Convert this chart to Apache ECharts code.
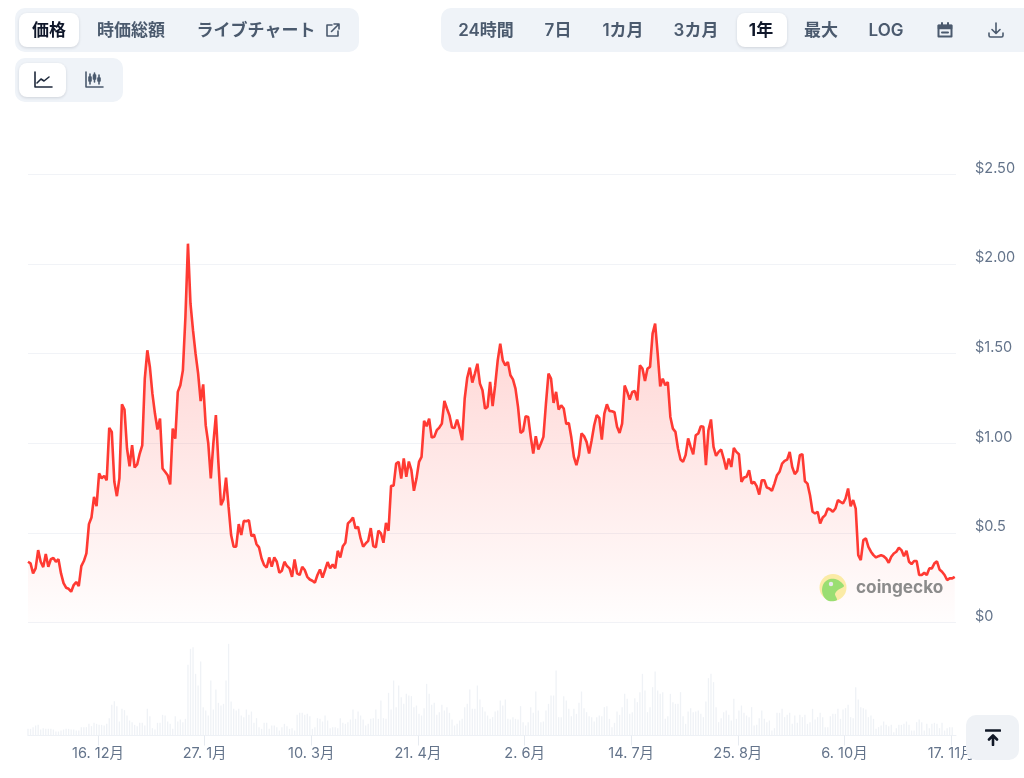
<!DOCTYPE html>
<html>
<head>
<meta charset="utf-8">
<title>価格チャート</title>
<script src="https://cdn.jsdelivr.net/npm/echarts@6/dist/echarts.min.js"></script>
<style>
html, body { margin: 0; padding: 0; background: #fff; overflow: hidden; }
body { width: 1024px; height: 778px; position: relative; font-family: Inter, "Noto Sans CJK JP", sans-serif; }
#priceChart { position: absolute; left: 0; top: 0; width: 1024px; height: 778px; }
.group { position: absolute; background: #eff3f8; border-radius: 10px; }
.pill { position: absolute; background: #fff; border-radius: 8px; box-shadow: 0 1px 3px rgba(15, 23, 42, .14); }
.label { position: absolute; top: 8px; height: 44px; line-height: 44px; transform: translateX(-50%); white-space: nowrap; font-size: 17px; font-weight: 600; color: #4b5a6e; }
.label.on { color: #0f172a; font-weight: 700; }
svg.icon { position: absolute; fill: none; stroke: #4b5a6e; stroke-width: 1.6; stroke-linecap: round; stroke-linejoin: round; }
#toTop { position: absolute; left: 966px; top: 715px; width: 53px; height: 45px; background: #eff2f6; border-radius: 10px; }
</style>
</head>
<body>
<div id="priceChart"></div>

<div class="group" style="left:15px;top:8px;width:344px;height:44px"></div>
<div class="pill" style="left:19px;top:13px;width:60px;height:34px"></div>
<div class="group" style="left:15px;top:58px;width:108px;height:44px"></div>
<div class="pill" style="left:19px;top:63px;width:47px;height:34px"></div>
<div class="group" style="left:441px;top:8px;width:600px;height:44px"></div>
<div class="pill" style="left:737px;top:13px;width:50px;height:34px"></div>

<span class="label on" style="left:49px">価格</span>
<span class="label" style="left:131px">時価総額</span>
<span class="label" style="left:256px">ライブチャート</span>
<span class="label" style="left:486px">24時間</span>
<span class="label" style="left:558px">7日</span>
<span class="label" style="left:623px">1カ月</span>
<span class="label" style="left:696px">3カ月</span>
<span class="label on" style="left:761px">1年</span>
<span class="label" style="left:821px">最大</span>
<span class="label" style="left:886px">LOG</span>

<!-- 外部リンク -->
<svg class="icon" style="left:324px;top:22px" width="17" height="17" viewBox="0 0 17 17">
  <path d="M8 3H3v11h11V9M7.5 9.5L14.5 2.5M10 2h5v5"/>
</svg>
<!-- ライン / ローソク足 -->
<svg class="icon" style="left:33px;top:71px;stroke:#1e293b" width="20" height="18" viewBox="0 0 20 18">
  <path d="M2 1v15h17M4 12l4-4 3 2 5-4"/>
</svg>
<svg class="icon" style="left:84px;top:71px" width="20" height="18" viewBox="0 0 20 18">
  <path d="M2 1v15h17M6 3v10M10.500 2v9M15 4v9"/>
  <path d="M5 6h2v4H5zM9.500 4h2v4h-2zM14 7h2v3h-2z" style="fill:#4b5a6e"/>
</svg>
<!-- カレンダー / ダウンロード -->
<svg class="icon" style="left:936px;top:21px" width="18" height="18" viewBox="0 0 18 18">
  <path d="M2.500 4.500h13v11h-13z" style="stroke-width:2"/>
  <path d="M2.500 4.500h13v3h-13z" style="fill:#4b5a6e"/>
  <path d="M6 2v2M12 2v2M6 11.500h6" style="stroke-width:2"/>
</svg>
<svg class="icon" style="left:987px;top:21px" width="18" height="18" viewBox="0 0 18 18">
  <path d="M9 2v10M5 8.500l4 4 4-4M2 12v2.500a1.500 1.500 0 0 0 1.500 1.500h11a1.500 1.500 0 0 0 1.500-1.500V12"/>
</svg>

<div id="toTop">
  <svg class="icon" style="left:19px;top:14px;stroke:#111827;stroke-width:2.600" width="16" height="17" viewBox="0 0 16 17">
    <path d="M1 1.500h14M8 16V7M4 10.500L8 6.500 12 10.500"/>
  </svg>
</div>

<script>
// 日次の価格（USD）
var prices = [
  .339,.33,.274,.302,.404,.339,.309,.382,.311,.353,.36,.339,.353,.274,.22,.194,.188,.172,.209,.226,
  .203,.315,.343,.386,.549,.586,.701,.649,.832,.804,.818,.794,1.086,1.064,.785,.705,.804,1.218,1.188,.971,
  .872,.989,.865,.882,.943,.989,1.361,1.519,1.426,1.277,1.166,1.077,1.138,.859,.841,.822,.77,1.082,1.026,1.287,
  1.324,1.407,1.705,2.114,1.779,1.63,1.5,1.39,1.236,1.329,1.1,1,.804,1,1.157,.889,.655,.687,.809,.645,
  .488,.423,.423,.549,.488,.567,.565,.571,.482,.491,.437,.419,.357,.32,.307,.363,.311,.363,.339,.278,
  .289,.339,.315,.302,.255,.352,.274,.265,.311,.293,.255,.24,.233,.222,.265,.296,.25,.293,.337,.302,
  .324,.302,.4,.363,.426,.445,.553,.566,.586,.525,.534,.469,.423,.441,.456,.527,.426,.419,.512,.497,
  .445,.556,.512,.763,.764,.887,.896,.803,.915,.813,.898,.85,.735,.803,.896,.924,1.125,1.095,1.138,1.032,
  1.036,1.073,1.088,1.11,1.236,1.194,1.156,1.088,1.086,1.132,1.082,1.017,1.25,1.366,1.422,1.339,1.389,1.444,1.333,1.296,
  1.194,1.203,1.343,1.207,1.324,1.463,1.556,1.463,1.435,1.454,1.38,1.357,1.305,1.203,1.058,1.069,1.151,1.147,1.036,.943,
  1.04,.965,.999,1.036,1.222,1.389,1.361,1.225,1.287,1.188,1.212,1.194,1.107,1.114,1.032,.924,.878,.934,1.055,1.04,
  1.008,.943,1.017,1.101,1.157,1.142,1.021,1.166,1.218,1.181,1.179,1.173,1.092,1.058,1.11,1.322,1.287,1.244,1.287,1.292,
  1.24,1.435,1.417,1.348,1.417,1.426,1.612,1.668,1.5,1.318,1.361,1.324,1.342,1.147,1.082,1.064,.971,.91,.897,.934,
  1.027,.98,.939,1.045,1.055,1.095,1.092,.878,1.073,1.133,.98,.93,.952,.965,.915,.854,.915,.868,.974,.952,
  .939,.785,.809,.813,.85,.775,.785,.761,.714,.794,.794,.753,.748,.735,.775,.822,.841,.887,.902,.909,
  .952,.868,.828,.846,.933,.939,.788,.775,.71,.618,.608,.618,.553,.586,.599,.636,.631,.618,.636,.683,
  .673,.664,.692,.748,.649,.683,.636,.376,.348,.46,.469,.422,.395,.376,.363,.37,.376,.37,.357,.333,
  .367,.385,.395,.417,.404,.37,.4,.339,.326,.343,.343,.265,.265,.278,.265,.302,.302,.33,.341,.296,
  .283,.265,.237,.246,.246,.255
];

// 日次の出来高（相対値、最大を 300 とする）
var volumes = [
  20,20,25,30,32,18,22,20,20,20,18,12,12,15,18,20,20,18,18,15,15,25,25,25,35,28,38,35,32,32,30,
  35,52,92,103,88,42,80,76,60,45,40,32,28,38,38,30,80,58,22,18,38,38,62,60,42,35,20,58,42,48,40,
  50,212,260,265,185,150,222,85,75,60,165,78,138,98,90,95,165,275,102,80,75,80,60,55,78,62,72,38,52,
  25,20,38,38,20,30,30,25,15,25,35,28,20,22,15,62,68,68,62,65,58,20,25,52,50,42,60,45,22,25,25,22,
  52,38,35,40,48,78,50,72,60,48,30,35,50,52,78,50,105,52,50,128,78,165,85,150,115,95,125,120,118,85,
  90,65,60,82,155,125,92,98,62,70,92,75,85,68,48,30,35,45,50,85,95,138,80,80,150,108,85,72,60,50,
  55,72,75,105,90,108,50,48,
  55,50,48,88,40,30,40,85,68,132,75,40,42,75,95,120,120,195,55,55,118,105,80,58,80,65,98,132,82,70,
  58,55,42,55,60,58,85,88,50,25,38,72,62,85,125,110,65,70,112,100,130,185,135,70,85,145,192,135,125,130,
  50,58,125,100,95,95,130,58,35,72,82,70,72,75,65,55,102,172,185,160,85,40,52,70,75,62,45,110,50,75,
  90,68,60,55,85,30,32,52,75,50,40,45,15,22,68,68,80,55,62,68,35,60,38,62,55,62,35,40,80,48,
  55,68,55,25,25,58,65,65,80,50,78,82,92,55,52,145,108,85,82,78,55,60,50,20,25,30,42,32,28,32,
  10,22,32,32,35,42,32,15,15,40,48,40,15,35,22,35,38,35,22,38,15,22,25,25
];

// 軸ラベル
var priceTicks = ['$0', '$0.5', '$1.00', '$1.50', '$2.00', '$2.50'];
var dateTicks = ['2024-12-16', '2025-01-27', '2025-03-10', '2025-04-21', '2025-06-02', '2025-07-14', '2025-08-25', '2025-10-06', '2025-11-17'];
var dateLabels = ['16. 12月', '27. 1月', '10. 3月', '21. 4月', '2. 6月', '14. 7月', '25. 8月', '6. 10月', '17. 11月'];

// x 軸は開始時刻からの経過日数
var DAY = 86400000;
var startTime = Date.UTC(2024, 10, 18, 10);
var spanDays = 365.5;
var tickDays = dateTicks.map(function (d) {
    return (new Date(d + 'T00:00:00Z').getTime() - startTime) / DAY;
});

function withDays(list) {
    return list.map(function (v, i) { return [i, v]; });
}

var chart = echarts.init(document.getElementById('priceChart'));
var textFont = 'Inter, "Noto Sans CJK JP", sans-serif';

chart.setOption({
    animation: false,
    backgroundColor: '#fff',
    grid: [
        { left: 28, right: 68, top: 174.5, height: 448 },
        { left: 28, right: 68, top: 635.5, height: 100 }
    ],
    xAxis: [
        { type: 'value', gridIndex: 0, min: 0, max: spanDays, show: false, splitLine: { show: false } },
        {
            type: 'value',
            gridIndex: 1,
            min: 0,
            max: spanDays,
            axisLine: { show: true, lineStyle: { color: '#eef1f6', width: 1 } },
            axisTick: { show: true, length: 10, customValues: tickDays, lineStyle: { color: '#e6eaf0' } },
            splitLine: { show: false },
            axisLabel: {
                customValues: tickDays,
                hideOverlap: false,
                margin: 11,
                color: '#64748b',
                fontSize: 14.5,
                fontFamily: textFont,
                formatter: function (value) {
                    return dateLabels[tickDays.indexOf(value)];
                }
            }
        }
    ],
    yAxis: [
        {
            type: 'value',
            gridIndex: 0,
            position: 'right',
            min: 0,
            max: 2.5,
            interval: 0.5,
            axisLine: { show: false },
            axisTick: { show: false },
            splitLine: { lineStyle: { color: '#f1f3f7', width: 1 } },
            axisLabel: {
                margin: 19,
                color: '#64748b',
                fontSize: 14.5,
                fontFamily: textFont,
                verticalAlign: 'bottom',
                lineHeight: 12,
                formatter: function (value) {
                    return priceTicks[Math.round(value / 0.5)];
                }
            }
        },
        { type: 'value', gridIndex: 1, min: 0, max: 300, show: false, splitLine: { show: false } }
    ],
    series: [
        {
            name: '出来高',
            type: 'bar',
            xAxisIndex: 1,
            yAxisIndex: 1,
            barWidth: 1.3,
            itemStyle: { color: '#eff2f6' },
            data: withDays(volumes)
        },
        {
            name: '価格',
            type: 'line',
            xAxisIndex: 0,
            yAxisIndex: 0,
            showSymbol: false,
            smooth: false,
            lineStyle: { color: '#ff3a33', width: 2.6 },
            areaStyle: {
                color: new echarts.graphic.LinearGradient(0, 0, 0, 1, [
                    { offset: 0, color: 'rgba(255, 58, 51, 0.38)' },
                    { offset: 1, color: 'rgba(255, 58, 51, 0.01)' }
                ])
            },
            data: withDays(prices)
        }
    ],
    graphic: [
        { type: 'circle', shape: { cx: 833, cy: 587.5, r: 13.5 }, style: { fill: '#fbeba6' }, z: 10 },
        {
            type: 'polygon',
            shape: {
                points: [[822, 590], [824, 583], [830, 579], [838, 580], [844, 586], [838, 590], [835, 594], [837, 600], [829, 601], [824, 597]],
                smooth: 0.3
            },
            style: { fill: '#9ade72' },
            z: 11
        },
        { type: 'circle', shape: { cx: 831, cy: 584, r: 2.2 }, style: { fill: '#e8e8ee' }, z: 12 },
        {
            type: 'text',
            x: 856,
            y: 587.5,
            style: {
                text: 'coingecko',
                fill: '#8b8b8b',
                font: '700 17.2px Inter, sans-serif',
                verticalAlign: 'middle'
            },
            z: 12
        }
    ]
});
</script>
</body>
</html>
